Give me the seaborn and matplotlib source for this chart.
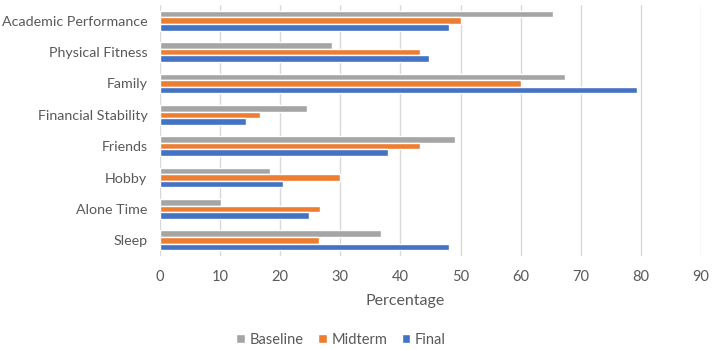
import pandas as pd
import matplotlib.pyplot as plt
import seaborn as sns

categories = ["Academic Performance", "Physical Fitness", "Family", "Financial Stability",
              "Friends", "Hobby", "Alone Time", "Sleep"]
baseline = [65.3, 28.6, 67.4, 24.4, 49.0, 18.3, 10.1, 36.8]
midterm = [50.1, 43.3, 60.1, 16.6, 43.3, 30.0, 26.6, 26.5]
final = [48.1, 44.8, 79.4, 14.3, 37.9, 20.5, 24.8, 48.1]
series = ["Baseline", "Midterm", "Final"]
colors = ["#A5A5A5", "#ED7D31", "#4472C4"]

df = pd.DataFrame({"Category": categories, "Baseline": baseline,
                   "Midterm": midterm, "Final": final})
long_df = df.melt(id_vars="Category", var_name="Time", value_name="Percentage")

sns.set_style("white")
plt.rcParams["font.family"] = ["Lato", "DejaVu Sans"]
text_color = "#595959"

fig = plt.figure(figsize=(7.12, 3.5), dpi=100)
ax = fig.add_axes([160 / 712, 1 - 256 / 350, (701 - 160) / 712, (256 - 5) / 350])

sns.barplot(data=long_df, y="Category", x="Percentage", hue="Time",
            hue_order=series, palette=colors, order=categories,
            orient="h", width=0.63, saturation=1, errorbar=None, ax=ax)

ax.set_xlim(0, 90)
ax.set_xticks(range(0, 91, 10))
ax.grid(axis="x", color="#D9D9D9", linewidth=1)
ax.set_axisbelow(True)
for s in ax.spines.values():
    s.set_visible(False)
ax.tick_params(axis="both", length=0, labelsize=10.5, colors=text_color)
ax.tick_params(axis="y", labelsize=10.3, pad=9)
ax.tick_params(axis="x", pad=10)
ax.set_ylabel("")
ax.set_xlabel("Percentage", fontsize=11.5, color=text_color)
ax.xaxis.set_label_coords((405 - 160) / (701 - 160), -0.15)

handles, labels = ax.get_legend_handles_labels()
ax.get_legend().remove()
fig.legend(handles, labels, loc="center", bbox_to_anchor=(341 / 712, 10 / 350),
           ncol=3, frameon=False, fontsize=10.5, handlelength=0.6, handleheight=0.6,
           handletextpad=0.3, columnspacing=1.0, labelcolor=text_color, borderpad=0.2)

fig.savefig("out.png", dpi=100)
